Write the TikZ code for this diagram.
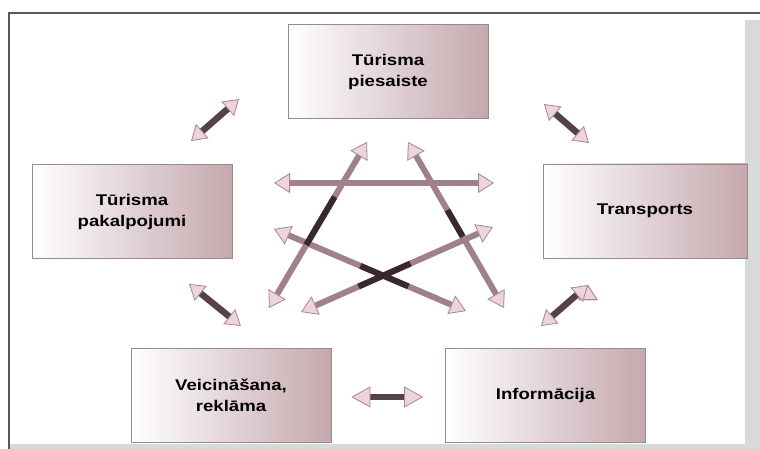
\documentclass[tikz,border=0pt]{standalone}
\usepackage{fontspec}
\setmainfont[FakeStretch=1.2]{Liberation Sans}
\usepackage{xcolor}
\usetikzlibrary{
    arrows.meta,
    calc
}

\definecolor{framegrey}{RGB}{85,90,90}
\definecolor{bandgrey}{RGB}{214,219,217}
\definecolor{boxpink}{RGB}{196,168,173}
\definecolor{boxedge}{RGB}{150,138,140}
\definecolor{shaftmauve}{RGB}{160,128,138}
\definecolor{shaftdark}{RGB}{55,40,45}
\definecolor{pairshaft}{RGB}{85,65,72}
\definecolor{headpink}{RGB}{236,212,218}
\definecolor{headedge}{RGB}{165,135,145}

\tikzset{
    box/.style={draw=boxedge, line width=0.8pt, left color=white, right color=boxpink,
        minimum width=200pt, minimum height=94pt, align=center,
        font=\fontsize{15.5}{21}\selectfont\bfseries},
    starrow/.style={<->, line width=6pt, draw=shaftmauve,
        >={Triangle[length=16pt, width=20pt, color=headedge, fill=headpink, line width=0.8pt]}},
    pairarrow/.style={<->, line width=6.5pt, draw=pairshaft,
        >={Triangle[length=15pt, width=19pt, color=headedge, fill=headpink, line width=0.8pt]}},
    darkpart/.style={draw=shaftdark, line width=6pt}
}

\begin{document}
\begin{tikzpicture}[x=1pt, y=-1pt]
    \useasboundingbox (0, 0) rectangle (760, 449);
    \fill[bandgrey] (745, 20) rectangle (760, 449);
    \fill[bandgrey] (9, 444) rectangle (760, 449);
    \draw[framegrey, line width=1.5pt] (760, 13) -- (9, 13) -- (9, 449);

    \node[box] (pie) at (388, 71.5) {Tūrisma\\piesaiste};
    \node[box] (pak) at (132, 211.5) {Tūrisma\\pakalpojumi};
    \node[box, minimum width=204pt] (tra) at (645, 211) {Transports};
    \node[box] (vei) at (231, 395) {Veicināšana,\\reklāma};
    \node[box] (inf) at (545.5, 395) {Informācija};

    \coordinate (pakpie1) at (191, 141);
    \coordinate (pakpie2) at (239, 99);
    \coordinate (pietra1) at (544, 104);
    \coordinate (pietra2) at (589, 143);
    \coordinate (pakvei1) at (189, 284);
    \coordinate (pakvei2) at (241, 326);
    \coordinate (trainf1) at (588, 285);
    \coordinate (trainf2) at (541, 326);

    \draw[pairarrow]
    (pakpie1) edge (pakpie2)
    (pietra1) edge (pietra2)
    (pakvei1) edge (pakvei2)
    (trainf1) edge (trainf2);
    \draw[pairarrow, line width=5.5pt, >={Triangle[length=19pt, width=21pt, color=headedge, fill=headpink, line width=0.8pt]}]
    ([xshift=20pt, yshift=-2pt]vei.east) -- ([xshift=-22pt, yshift=-2pt]inf.west);

    \coordinate (h1) at (274, 183);
    \coordinate (h2) at (494, 183);
    \coordinate (l1) at (269, 308);
    \coordinate (l2) at (367, 142);
    \coordinate (r1) at (408, 142);
    \coordinate (r2) at (504, 308);
    \coordinate (d1) at (274, 229);
    \coordinate (d2) at (466, 311);
    \coordinate (e1) at (493, 227);
    \coordinate (e2) at (301, 312);

    \foreach \a/\b in {l1/l2, r1/r2, d1/d2, e1/e2, h1/h2} {
        \draw[starrow] (\a) -- (\b);
    };
    \draw[darkpart]
    ($(l1)!0.38!(l2)$) -- ($(l1)!0.67!(l2)$)
    ($(r1)!0.41!(r2)$) -- ($(r1)!0.57!(r2)$)
    ($(d1)!0.45!(d2)$) -- ($(d1)!0.70!(d2)$)
    ($(e1)!0.43!(e2)$) -- ($(e1)!0.70!(e2)$);
\end{tikzpicture}
\end{document}
